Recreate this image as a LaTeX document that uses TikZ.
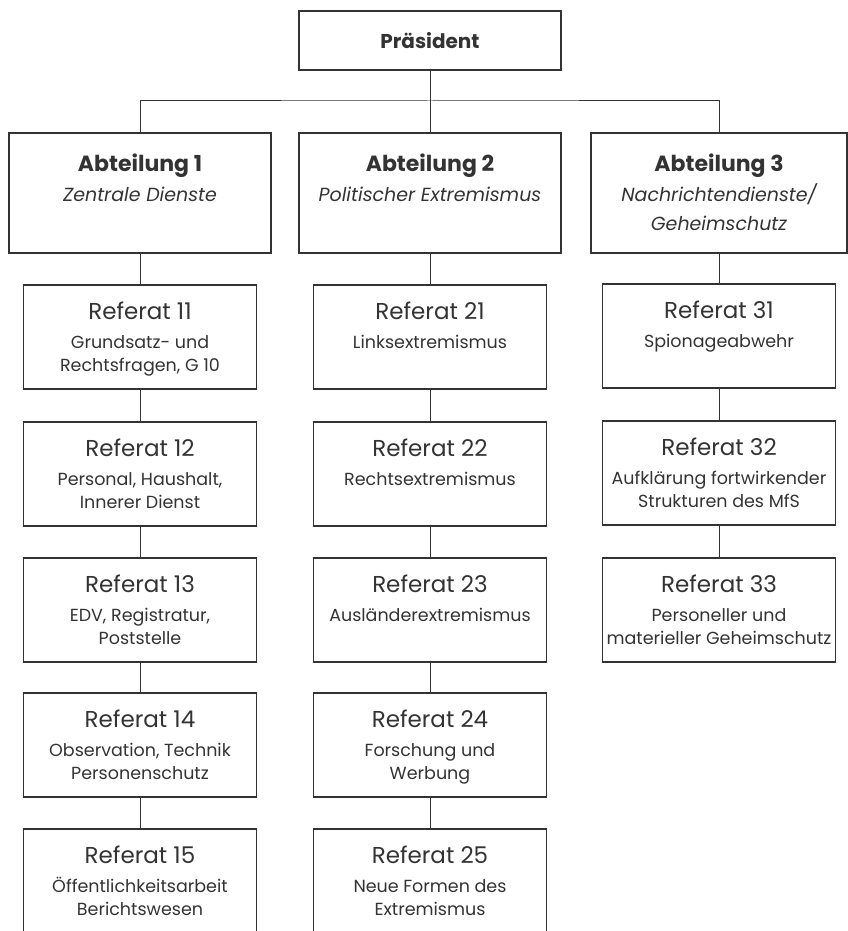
\documentclass[tikz,border=0pt]{standalone}
\usepackage{fontspec}
\setmainfont{Poppins}
\definecolor{ink}{gray}{0.2}
% text of the boxes
\newcommand{\reftitle}{\fontsize{23}{23}\selectfont}
\newcommand{\refdesc}{\fontsize{17.5}{23}\selectfont}
\newcommand{\referat}[2]{\parbox[c][104pt][t]{231pt}{\centering\reftitle\rule{0pt}{34pt}Referat #1\\[6pt]\refdesc #2}}
\newcommand{\abteilung}[2]{\parbox[c][120pt][t]{254pt}{\centering\fontsize{22}{29}\selectfont\rule{0pt}{38pt}\textbf{Abteilung #1}\\[1pt]\fontsize{19}{29}\selectfont\textit{#2}}}

\begin{document}
\begin{tikzpicture}[x=1pt, y=-1pt]
  \tikzset{
    every node/.style={text=ink},
    refbox/.style={draw=ink, line width=1.2pt, inner sep=0pt, minimum width=233pt, minimum height=104pt},
    abtbox/.style={draw=ink, line width=2pt, inner sep=0pt, minimum width=262pt, minimum height=120pt},
    link/.style={draw=ink, line width=1pt}
  }
  \useasboundingbox (0,0) rectangle (847,931);

  \node[draw=ink, line width=2pt, minimum width=262pt, minimum height=59pt,
        font=\fontsize{20}{24}\selectfont\bfseries] (praes) at (430,40.5) {Präsident};
  \coordinate (bar) at (430,101);

  \node[abtbox] (abt1) at (140,193) {\abteilung{1}{Zentrale Dienste}};
  \node[abtbox] (abt2) at (430,193) {\abteilung{2}{Politischer Extremismus}};
  \node[abtbox, minimum width=256pt] (abt3) at (719,193) {\abteilung{3}{Nachrichtendienste/\\Geheimschutz}};

  % Abteilung 1
  \node[refbox] (r11) at (140,337) {\referat{11}{Grundsatz- und\\Rechtsfragen, G 10}};
  \node[refbox] (r12) at (140,474) {\referat{12}{Personal, Haushalt,\\Innerer Dienst}};
  \node[refbox] (r13) at (140,610) {\referat{13}{EDV, Registratur,\\Poststelle}};
  \node[refbox] (r14) at (140,745) {\referat{14}{Observation, Technik\\Personenschutz}};
  \node[refbox] (r15) at (140,881) {\referat{15}{Öffentlichkeitsarbeit\\Berichtswesen}};
  % Abteilung 2
  \node[refbox] (r21) at (430,337) {\referat{21}{Linksextremismus}};
  \node[refbox] (r22) at (430,474) {\referat{22}{Rechtsextremismus}};
  \node[refbox] (r23) at (430,610) {\referat{23}{Ausländerextremismus}};
  \node[refbox] (r24) at (430,745) {\referat{24}{Forschung und\\Werbung}};
  \node[refbox] (r25) at (430,881) {\referat{25}{Neue Formen des\\Extremismus}};
  % Abteilung 3
  \node[refbox] (r31) at (719,336) {\referat{31}{Spionageabwehr}};
  \node[refbox] (r32) at (719,473) {\referat{32}{Aufklärung fortwirkender\\Strukturen des MfS}};
  \node[refbox] (r33) at (719,610) {\referat{33}{Personeller und\\materieller Geheimschutz}};

  \draw[link] (praes.south) -- (abt2.north);
  \draw[link] (abt1.north) |- (bar) -| (abt3.north);
  \foreach \c in {1,2,3}
    \draw[link] (abt\c.south) -- (r\c1.north);
  \foreach \a/\b in {11/12,12/13,13/14,14/15,21/22,22/23,23/24,24/25,31/32,32/33}
    \draw[link] (r\a.south) -- (r\b.north);
\end{tikzpicture}
\end{document}
